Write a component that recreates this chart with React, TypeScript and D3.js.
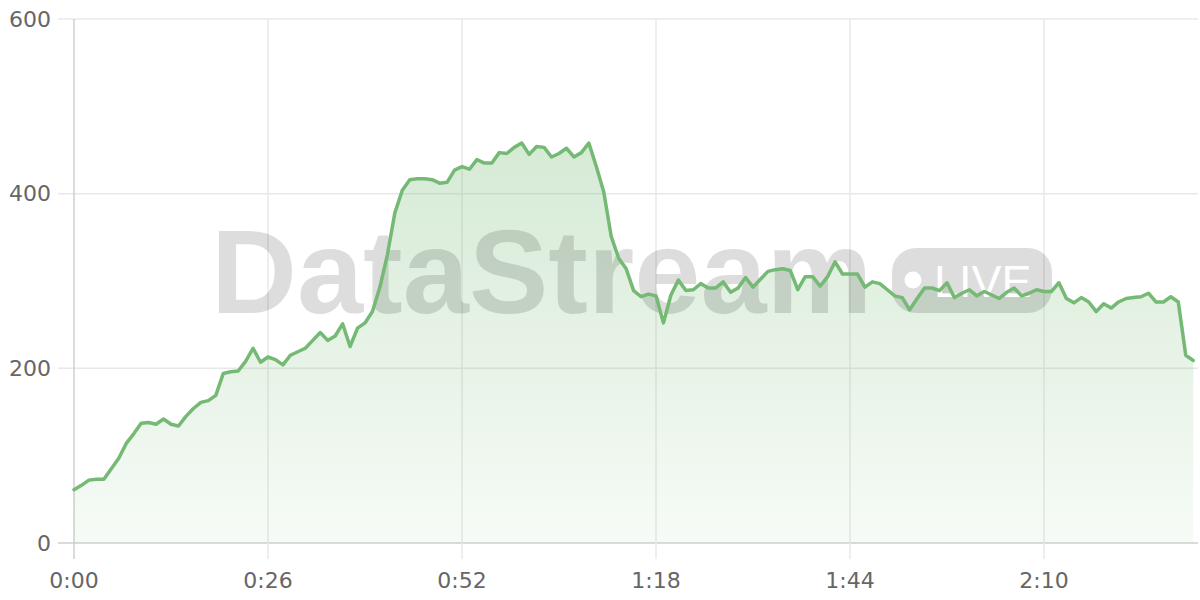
import React from "react";
import * as d3 from "d3";

const values: number[] = [
  61, 66, 72, 73, 73, 85, 97, 114, 125, 137,
  138, 136, 142, 136, 134, 145, 154, 161, 163, 169,
  194, 196, 197, 208, 223, 207, 213, 210, 204, 215,
  219, 223, 232, 241, 232, 237, 251, 225, 246, 252,
  265, 293, 330, 378, 404, 416, 417, 417, 416, 412,
  413, 427, 431, 428, 439, 435, 435, 447, 446, 453,
  458, 445, 454, 453, 442, 446, 452, 442, 447, 458,
  431, 402, 351, 326, 314, 289, 282, 285, 283, 252,
  284, 301, 289, 290, 297, 292, 292, 299, 287, 292,
  304, 293, 302, 311, 313, 314, 312, 290, 305, 305,
  294, 305, 322, 308, 308, 308, 293, 299, 297, 290,
  283, 281, 267, 280, 292, 292, 289, 298, 281, 286,
  290, 283, 288, 284, 280, 287, 292, 283, 286, 290,
  288, 288, 298, 280, 275, 281, 276, 265, 274, 269,
  276, 280, 281, 282, 286, 276, 276, 282, 276, 215,
  209,
];

const xTicks: number[] = [0, 26, 52, 78, 104, 130];
const yTicks: number[] = [0, 200, 400, 600];
const watermarkText = "DataStream";
const badgeText = "LIVE";

const W = 1200;
const H = 600;
const M = { left: 74, right: 2, top: 19, bottom: 57 };
const FONT = "'DejaVu Sans', sans-serif";
const WM_FONT = "'Liberation Sans', Arial, sans-serif";

export default function App() {
  const data = values.map((v, i) => ({ t: i, v }));
  const x = d3
    .scaleLinear()
    .domain([0, values.length - 1])
    .range([M.left, M.left + (values.length - 1) * (194 / 26)]);
  const plotRight = W - M.right;
  const y = d3.scaleLinear().domain([0, 600]).range([H - M.bottom, M.top]);

  const line = d3
    .line<{ t: number; v: number }>()
    .x((d) => x(d.t))
    .y((d) => y(d.v));
  const area = d3
    .area<{ t: number; v: number }>()
    .x((d) => x(d.t))
    .y0(y(0))
    .y1((d) => y(d.v));

  const fmt = (s: number) => `${Math.floor(s / 60)}:${String(s % 60).padStart(2, "0")}`;
  const tickLen = 16;

  return (
    <svg
      width={W}
      height={H}
      style={{ position: "absolute", left: 0, top: 0, background: "#fff" }}
    >
      <defs>
        <linearGradient id="areaGrad" x1="0" y1="0" x2="0" y2="1">
          <stop offset="0%" stopColor="#74b974" stopOpacity={0.3} />
          <stop offset="100%" stopColor="#74b974" stopOpacity={0.06} />
        </linearGradient>
      </defs>

      {/* grid */}
      {yTicks.map((t) => (
        <line
          key={"gy" + t}
          x1={M.left - tickLen}
          x2={plotRight}
          y1={y(t)}
          y2={y(t)}
          stroke={t === 0 ? "#cfcfcf" : "#e8e8e8"}
          strokeWidth={1.5}
        />
      ))}
      {xTicks.map((t) => (
        <line
          key={"gx" + t}
          x1={x(t)}
          x2={x(t)}
          y1={M.top}
          y2={y(0) + tickLen}
          stroke={t === 0 ? "#cfcfcf" : "#e8e8e8"}
          strokeWidth={1.5}
        />
      ))}

      {/* area */}
      <path d={area(data) || ""} fill="url(#areaGrad)" />

      {/* watermark */}
      <g>
        <text
          x={211}
          y={313}
          fontFamily={WM_FONT}
          fontWeight={700}
          fontSize={119}
          fill="#000"
          fillOpacity={0.135}
        >
          {watermarkText}
        </text>
        <rect x={892} y={248} width={160} height={65} rx={24} fill="#000" fillOpacity={0.135} />
        <circle cx={913} cy={280} r={8.5} fill="#fff" />
        <text x={934} y={297} fontFamily={WM_FONT} fontSize={45} fill="#fff">
          {badgeText}
        </text>
      </g>

      {/* line */}
      <path
        d={line(data) || ""}
        fill="none"
        stroke="#74b974"
        strokeWidth={3.5}
        strokeLinejoin="round"
        strokeLinecap="round"
      />

      {/* y labels */}
      {yTicks.map((t) => (
        <text
          key={"ly" + t}
          x={51}
          y={y(t)}
          dy="0.35em"
          textAnchor="end"
          fontFamily={FONT}
          fontSize={22}
          fill="#666"
        >
          {t}
        </text>
      ))}
      {/* x labels */}
      {xTicks.map((t) => (
        <text
          key={"lx" + t}
          x={x(t)}
          y={588}
          textAnchor="middle"
          fontFamily={FONT}
          fontSize={22}
          fill="#666"
        >
          {fmt(t)}
        </text>
      ))}
    </svg>
  );
}
